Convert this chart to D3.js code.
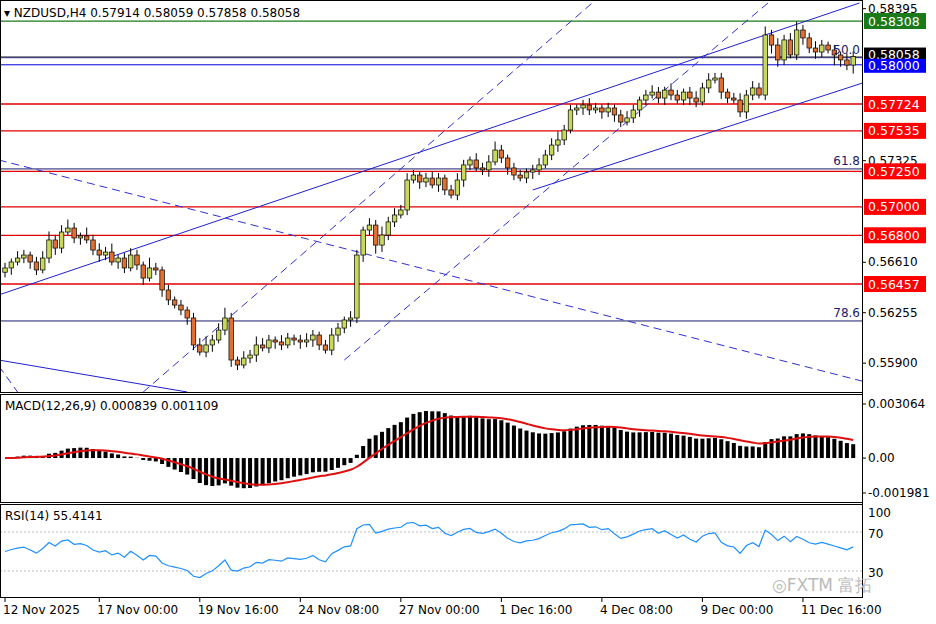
<!DOCTYPE html>
<html><head><meta charset="utf-8">
<script src="https://cdn.jsdelivr.net/npm/d3@7/dist/d3.min.js"></script>
<style>body{margin:0;background:#fff}svg{font-family:Tahoma,"DejaVu Sans",sans-serif}</style>
</head><body><svg id="c" width="936" height="624"></svg>
<script>
const closes=[0.56570,0.56612,0.56640,0.56661,0.56612,0.56556,0.56640,0.56767,0.56710,0.56823,0.56851,0.56781,0.56795,0.56767,0.56696,0.56661,
0.56682,0.56612,0.56640,0.56570,0.56661,0.56591,0.56499,0.56570,0.56556,0.56415,0.56345,0.56309,0.56274,0.56218,0.56028,0.55978,
0.56028,0.56063,0.56133,0.56218,0.55922,0.55887,0.55936,0.55957,0.56028,0.56007,0.56063,0.56049,0.56028,0.56077,0.56063,0.56049,
0.56063,0.56098,0.56028,0.55992,0.56098,0.56147,0.56204,0.56218,0.56661,0.56837,0.56872,0.56731,0.56802,0.56894,0.56943,0.56978,
0.57189,0.57224,0.57175,0.57203,0.57154,0.57203,0.57119,0.57083,0.57189,0.57295,0.57330,0.57274,0.57260,0.57316,0.57400,0.57344,
0.57274,0.57224,0.57203,0.57245,0.57260,0.57295,0.57365,0.57435,0.57471,0.57541,0.57682,0.57696,0.57717,0.57682,0.57696,0.57668,
0.57696,0.57647,0.57597,0.57626,0.57682,0.57752,0.57787,0.57808,0.57766,0.57822,0.57787,0.57752,0.57808,0.57766,0.57738,0.57837,
0.57893,0.57907,0.57808,0.57766,0.57752,0.57668,0.57787,0.57837,0.57787,0.58210,0.58139,0.58034,0.58175,0.58069,0.58245,0.58189,
0.58118,0.58090,0.58139,0.58104,0.58069,0.58034,0.57998,0.58058];
const firstOpen=0.56540;
const wickUp=[3,2,4,3,2,3,4,5,3,4,5,3,2,5,3,4, 3,5,2,3,4,3,2,6,3,2,3,2,3,2,3,4, 5,3,4,6,3,2,4,3,5,4,3,2,4,3,2,3, 4,3,2,3,4,3,2,4,3,2,4,3,5,3,4,3, 4,3,2,3,4,3,2,3,4,3,2,4,3,4,5,3, 2,3,3,2,3,4,3,4,5,3,3,2,3,4,3,2, 3,2,3,4,3,2,3,4,3,2,4,3,2,3,4,3, 4,3,3,2,3,4,3,4,3,5,3,4,3,4,5,3, 3,4,3,2,3,2,4,3];
const wickDn=[3,4,2,3,4,3,2,3,4,3,2,3,4,2,3,4, 3,2,4,3,2,3,4,2,3,4,3,2,3,4,3,2, 3,4,2,3,4,3,2,3,4,2,3,4,3,2,3,4, 3,4,3,2,3,4,3,4,3,4,3,5,4,3,3,2, 3,2,4,3,2,4,3,2,3,4,3,2,3,4,2,3, 4,3,2,3,4,3,2,3,4,3,2,3,4,3,2,4, 3,4,3,2,3,4,3,2,3,4,3,2,3,4,3,2, 3,2,4,3,2,3,4,3,2,3,5,4,3,2,3,4, 3,4,3,2,6,4,3,5];
const timeLabels=["12 Nov 2025","17 Nov 00:00","19 Nov 16:00","24 Nov 08:00","27 Nov 00:00","1 Dec 16:00","4 Dec 08:00","9 Dec 00:00","11 Dec 16:00"];
const timeBars=[0,15,31,47,63,79,95,111,127];
const priceTicks=[0.58395,0.57325,0.56610,0.56255,0.55900];
const levelsRed=[0.57724,0.57535,0.57250,0.57000,0.56800,0.56457];
const levelGreen=0.58308, levelBlue=0.58000, lastPrice=0.58058;
const fibs=[["50.0",0.58050],["61.8",0.57267],["78.6",0.56197]];
const solidLines=[[[-1,0.56380],[136,0.58435]],[[84,0.57119],[137,0.57879]],[[-1,0.55922],[29,0.55697]]];
const dashedLines=[[[-1,0.57330],[137,0.55767]],[[22,0.55697],[94,0.58456]],[[54,0.55922],[122,0.58456]],[[-1,0.55880],[2,0.55697]]];

const svg=d3.select("#c");
const W=862;
const x=d3.scaleLinear().domain([-0.8,136.4]).range([0,W]);
const y=d3.scaleLinear().domain([0.55697,0.58456]).range([392,0]);
const ym=d3.scaleLinear().domain([-0.001981,0.003064]).range([493,404]);
const yr=d3.scaleLinear().domain([30,70]).range([571,532]);

const data=closes.map((c,i)=>{const o=i?closes[i-1]:firstOpen;return{i,o,c,h:Math.max(o,c)+wickUp[i]*1.2e-4,l:Math.min(o,c)-wickDn[i]*1.2e-4};});

svg.append("clipPath").attr("id","cp").append("rect").attr("x",0).attr("y",0).attr("width",W).attr("height",392);
svg.append("clipPath").attr("id","cr").append("rect").attr("x",0).attr("y",505).attr("width",W).attr("height",92);
const g=svg.append("g").attr("clip-path","url(#cp)");

levelsRed.forEach(v=>g.append("line").attr("x1",0).attr("x2",W).attr("y1",y(v)).attr("y2",y(v)).attr("stroke","#e00000").attr("stroke-width",1.3));
g.append("line").attr("x1",0).attr("x2",W).attr("y1",y(levelGreen)).attr("y2",y(levelGreen)).attr("stroke","#1a7a1a").attr("stroke-width",1.3);
g.append("line").attr("x1",0).attr("x2",W).attr("y1",y(levelBlue)).attr("y2",y(levelBlue)).attr("stroke","#0000e0").attr("stroke-width",1);
g.append("line").attr("x1",0).attr("x2",W).attr("y1",y(lastPrice)).attr("y2",y(lastPrice)).attr("stroke","#888").attr("stroke-width",1);
fibs.forEach(([t,v])=>{g.append("line").attr("x1",0).attr("x2",W).attr("y1",y(v)).attr("y2",y(v)).attr("stroke","#1a1a6e").attr("stroke-width",1);
 svg.append("text").attr("x",W-2).attr("y",y(v)-4).attr("text-anchor","end").attr("font-size",12).attr("fill","#1a1a6e").text(t);});
solidLines.forEach(l=>g.append("line").attr("x1",x(l[0][0])).attr("y1",y(l[0][1])).attr("x2",x(l[1][0])).attr("y2",y(l[1][1])).attr("stroke","#2020d0").attr("stroke-width",1));
dashedLines.forEach(l=>g.append("line").attr("x1",x(l[0][0])).attr("y1",y(l[0][1])).attr("x2",x(l[1][0])).attr("y2",y(l[1][1])).attr("stroke","#3030d0").attr("stroke-width",1).attr("stroke-dasharray","8,5"));

const cw=4.5;
const cg=g.selectAll(".cd").data(data).enter().append("g");
cg.append("line").attr("x1",d=>x(d.i)).attr("x2",d=>x(d.i)).attr("y1",d=>y(d.h)).attr("y2",d=>y(d.l)).attr("stroke","#000");
cg.append("rect").attr("x",d=>x(d.i)-cw/2).attr("width",cw).attr("y",d=>y(Math.max(d.o,d.c))).attr("height",d=>Math.max(1,Math.abs(y(d.o)-y(d.c))))
 .attr("fill",d=>d.c>=d.o?"#c8d85a":"#e07030").attr("stroke","#000").attr("stroke-width",0.7);

function ema(arr,n){const k=2/(n+1);let e=arr[0];return arr.map(v=>e=v*k+e*(1-k));}
const e12=ema(closes,12),e26=ema(closes,26);
const macd=closes.map((c,i)=>e12[i]-e26[i]);
const sig=[];{let s=macd[0];macd.forEach(v=>{s=v*0.2+s*0.8;sig.push(s);});}
svg.selectAll(".mb").data(macd).enter().append("rect").attr("x",(d,i)=>x(i)-2).attr("width",4)
 .attr("y",d=>Math.min(ym(d),ym(0))).attr("height",d=>Math.abs(ym(d)-ym(0))).attr("fill","#000");
svg.append("path").attr("d",d3.line().x((d,i)=>x(i)).y(d=>ym(d)).curve(d3.curveMonotoneX)(sig)).attr("fill","none").attr("stroke","#e01010").attr("stroke-width",2);

const rsi=[];{let ag=0.0004,al=0.0004;closes.forEach((c,i)=>{const ch=i?c-closes[i-1]:0;
 ag=(ag*13+Math.max(ch,0))/14;al=(al*13+Math.max(-ch,0))/14;rsi.push(100-100/(1+ag/al));});}
[70,30].forEach(v=>svg.append("line").attr("x1",0).attr("x2",W).attr("y1",yr(v)).attr("y2",yr(v)).attr("stroke","#bbb").attr("stroke-dasharray","2,2"));
svg.append("path").attr("clip-path","url(#cr)").attr("d",d3.line().x((d,i)=>x(i)).y(d=>yr(d))(rsi)).attr("fill","none").attr("stroke","#1e90ff").attr("stroke-width",1.2);

[[0,392],[394,502],[504,597]].forEach(([a,b])=>svg.append("rect").attr("x",0.5).attr("y",a+0.5).attr("width",W).attr("height",b-a).attr("fill","none").attr("stroke","#000"));
svg.append("line").attr("x1",W+0.5).attr("x2",W+0.5).attr("y1",0).attr("y2",597).attr("stroke","#000");

priceTicks.forEach(v=>{svg.append("line").attr("x1",W).attr("x2",W+4).attr("y1",y(v)).attr("y2",y(v)).attr("stroke","#000");
 svg.append("text").attr("x",W+6).attr("y",y(v)+4).attr("font-size",12).attr("fill","#000").text(v.toFixed(5));});
function tag(v,bg,h,dy){const yy=y(v);svg.append("rect").attr("x",W+2).attr("y",yy-h/2+(dy||0)).attr("width",62).attr("height",h).attr("fill",bg);
 svg.append("text").attr("x",W+6).attr("y",yy+4.5+(dy||0)).attr("font-size",12.5).attr("fill","#fff").text(v.toFixed(5));}
levelsRed.forEach(v=>tag(v,"#ff0000",16));tag(levelGreen,"#1a7a1a",16);
tag(lastPrice,"#000",14,-2);
tag(levelBlue,"#0000ff",14,1);

[[0.003064,"0.003064"],[0,"0.00"],[-0.001981,"-0.001981"]].forEach(([v,t])=>{svg.append("line").attr("x1",W).attr("x2",W+4).attr("y1",ym(v)).attr("y2",ym(v)).attr("stroke","#000");
 svg.append("text").attr("x",W+6).attr("y",ym(v)+4).attr("font-size",12).text(t);});
[[100,513],[70,534],[30,573]].forEach(([v,py])=>svg.append("text").attr("x",W+6).attr("y",py+4).attr("font-size",12).text(v));

timeBars.forEach((b,k)=>{svg.append("line").attr("x1",x(b)).attr("x2",x(b)).attr("y1",597).attr("y2",602).attr("stroke","#000");
 svg.append("text").attr("x",x(b)-2).attr("y",614).attr("font-size",12).text(timeLabels[k]);});

svg.append("text").attr("x",4).attr("y",17).attr("font-size",12).text("▾ NZDUSD,H4  0.57914 0.58059 0.57858 0.58058");
svg.append("text").attr("x",5).attr("y",410).attr("font-size",12).text("MACD(12,26,9) 0.000839 0.001109");
svg.append("text").attr("x",5).attr("y",520).attr("font-size",12).text("RSI(14) 55.4141");
svg.append("text").attr("x",772).attr("y",591).attr("font-size",17).attr("fill","#bbb").text("◎FXTM 富拓");
</script></body></html>
